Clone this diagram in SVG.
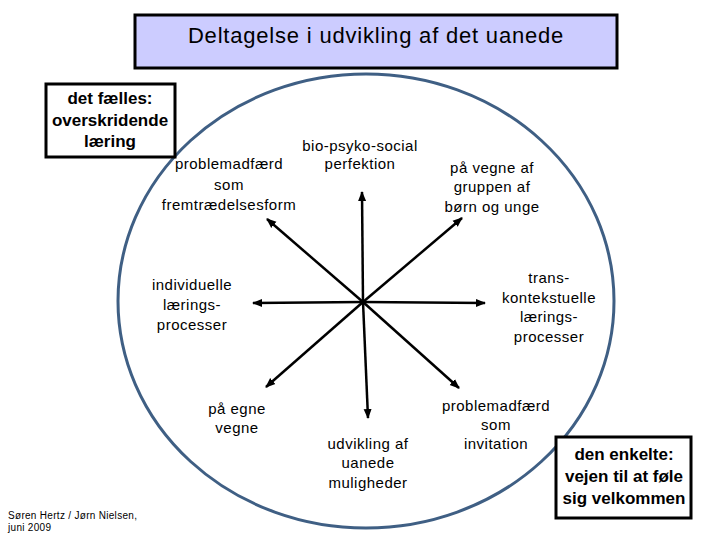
<svg xmlns="http://www.w3.org/2000/svg" width="720" height="540" viewBox="0 0 720 540">
<defs>
<style>
.lbl{font-family:"Liberation Sans",Arial,sans-serif;font-size:15px;letter-spacing:0.5px;fill:#000;text-anchor:middle}
.box{fill:#fff;stroke:#000;stroke-width:3}
.bold{font-family:"Liberation Sans",Arial,sans-serif;font-size:17px;font-weight:bold;fill:#000;text-anchor:middle}
.ln{stroke:#000;stroke-width:2.5;fill:none;marker-end:url(#ah)}
</style>
<marker id="ah" viewBox="0 0 10 10" refX="9" refY="5" markerWidth="4" markerHeight="4" orient="auto" markerUnits="strokeWidth">
<path d="M0,1 L10,5 L0,9 Z" fill="#000"/>
</marker>
</defs>
<rect width="720" height="540" fill="#fff"/>
<g id="ellipse">
<ellipse cx="366" cy="301" rx="248" ry="227" fill="none" stroke="#3F5F84" stroke-width="3"/>
</g>
<g id="title">
<rect x="135" y="15" width="482" height="53" fill="#CCCCFF" stroke="#000" stroke-width="3"/>
<text x="376" y="43" font-family="Liberation Sans,Arial,sans-serif" font-size="22" letter-spacing="0.8" text-anchor="middle">Deltagelse i udvikling af det uanede</text>
</g>
<g id="faelles">
<rect class="box" x="46" y="84" width="129" height="73"/>
<text class="bold" x="110"><tspan x="110" y="104">det fælles:</tspan><tspan x="110" y="126">overskridende</tspan><tspan x="110" y="147">læring</tspan></text>
</g>
<g id="enkelte">
<rect class="box" x="556" y="437" width="135" height="81"/>
<text class="bold" x="624"><tspan x="624" y="460">den enkelte:</tspan><tspan x="624" y="482">vejen til at føle</tspan><tspan x="624" y="504">sig velkommen</tspan></text>
</g>
<g id="connectors">
<line class="ln" x1="363" y1="302" x2="362" y2="192"/>
<line class="ln" x1="363" y1="302" x2="368" y2="418"/>
<line class="ln" x1="363" y1="302" x2="253" y2="303"/>
<line class="ln" x1="363" y1="302" x2="485" y2="303"/>
<line class="ln" x1="363" y1="302" x2="267" y2="219"/>
<line class="ln" x1="363" y1="302" x2="462" y2="218"/>
<line class="ln" x1="363" y1="302" x2="266" y2="387"/>
<line class="ln" x1="363" y1="302" x2="459" y2="388"/>
</g>
<g id="n-bio">
<text class="lbl"><tspan x="360" y="151">bio-psyko-social</tspan><tspan x="360" y="169">perfektion</tspan></text>
</g>
<g id="n-frem">
<text class="lbl"><tspan x="229" y="169">problemadfærd</tspan><tspan x="229" y="190">som</tspan><tspan x="229" y="210">fremtrædelsesform</tspan></text>
</g>
<g id="n-gruppen">
<text class="lbl"><tspan x="492" y="173">på vegne af</tspan><tspan x="492" y="192">gruppen af</tspan><tspan x="492" y="212">børn og unge</tspan></text>
</g>
<g id="n-indiv">
<text class="lbl"><tspan x="192" y="290">individuelle</tspan><tspan x="192" y="310">lærings-</tspan><tspan x="192" y="330">processer</tspan></text>
</g>
<g id="n-trans">
<text class="lbl"><tspan x="549" y="283">trans-</tspan><tspan x="549" y="303">kontekstuelle</tspan><tspan x="549" y="322">lærings-</tspan><tspan x="549" y="342">processer</tspan></text>
</g>
<g id="n-egne">
<text class="lbl"><tspan x="237" y="414">på egne</tspan><tspan x="237" y="433">vegne</tspan></text>
</g>
<g id="n-udv">
<text class="lbl"><tspan x="368" y="449">udvikling af</tspan><tspan x="368" y="468">uanede</tspan><tspan x="368" y="488">muligheder</tspan></text>
</g>
<g id="n-inv">
<text class="lbl"><tspan x="496" y="411">problemadfærd</tspan><tspan x="496" y="430">som</tspan><tspan x="496" y="449">invitation</tspan></text>
</g>
<g id="footer">
<text font-family="Liberation Sans,Arial,sans-serif" font-size="10" letter-spacing="0.3"><tspan x="8" y="519">Søren Hertz / Jørn Nielsen,</tspan><tspan x="8" y="531">juni 2009</tspan></text>
</g>
</svg>
